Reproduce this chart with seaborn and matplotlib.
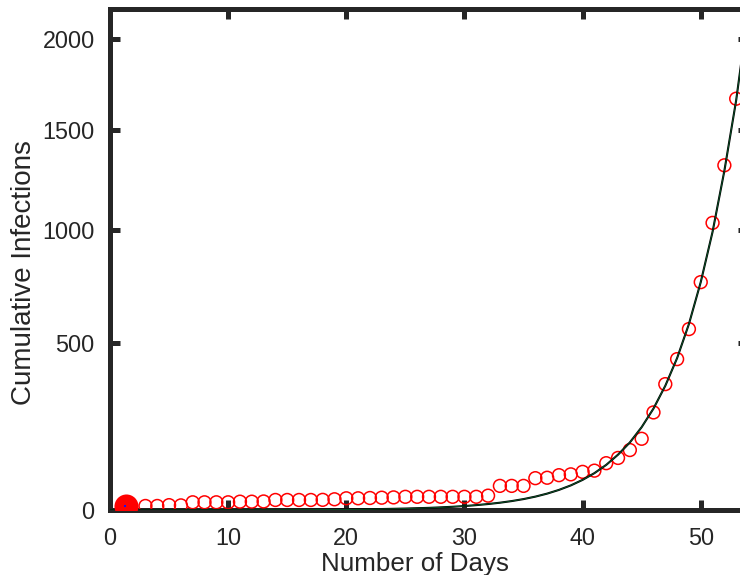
import matplotlib
matplotlib.use('Agg')
import matplotlib.pyplot as plt
import seaborn as sns
import pandas as pd
import numpy as np

days = list(range(3, 54))
infections = [3.5, 3.5, 4.5, 4.2, 8.3, 8.3, 8.3, 8.3, 9.2, 9.2,
              9.5, 11.8, 11.8, 11.8, 11.8, 12, 12.9, 14.5, 14.5, 15,
              15.5, 16, 17, 17, 17, 17, 17, 17, 17, 19,
              38, 38, 38, 55, 56, 62, 64, 70, 73, 92,
              106, 128, 161, 245, 344, 438, 558, 759, 1033, 1318,
              1668]

# fitted curve (black / dark green line), per-day values
fit_days = [0, 5, 10, 15] + list(range(20, 55))
fit_values = [0.001, 0.004, 0.015, 0.06,
              0.23, 0.31, 0.40, 0.52, 0.69, 0.9, 1.2, 1.5, 2.0, 2.6,
              3.4, 4.5, 5.9, 7.7, 10.1, 13.2, 17.3, 22.7, 29.8, 39.0,
              51.1, 66.9, 87.6, 115, 150, 197, 258, 338, 442, 579,
              759, 990, 1290, 1660, 2150]

# initial point (filled red marker with a tiny blue dot)
start_day = [1.35]
start_value = [3.0]

x_ticks = [0, 10, 20, 30, 40, 50]
y_ticks = [0, 500, 1000, 1500, 2000]


def fwd(v):
    v = np.asarray(v, dtype=float)
    return np.sign(v) * np.abs(v) ** 0.75


def inv(v):
    v = np.asarray(v, dtype=float)
    return np.sign(v) * np.abs(v) ** (4.0 / 3.0)


def main():
    sns.set_style('white')
    plt.rcParams['font.family'] = ['Liberation Sans', 'DejaVu Sans']

    obs_df = pd.DataFrame({'Number of Days': days, 'Cumulative Infections': infections})
    fit_df = pd.DataFrame({'Number of Days': fit_days, 'Cumulative Infections': fit_values})

    fig = plt.figure(figsize=(7.4, 5.75), dpi=100)
    ax = fig.add_axes([110 / 740, 65 / 575, 638 / 740, 501 / 575])
    ax.set_yscale('function', functions=(fwd, inv))

    sns.scatterplot(x='Number of Days', y='Cumulative Infections', data=obs_df, ax=ax,
                    marker='o', s=85, facecolors='none', edgecolor='#ff0000',
                    linewidth=1.1, zorder=3)
    sns.lineplot(x='Number of Days', y='Cumulative Infections', data=fit_df, ax=ax,
                 color='black', linewidth=1.5, zorder=4)
    sns.lineplot(x='Number of Days', y='Cumulative Infections', data=fit_df, ax=ax,
                 color='#0b5a2c', linewidth=0.6, zorder=5)
    ax.scatter(start_day, start_value, s=300, color='#ff0000', zorder=6, linewidths=0)
    ax.scatter([1.25], [3.5], s=3, color='#1010ff', marker='s', zorder=7, linewidths=0)

    ax.set_xlim(0, 54)
    ax.set_ylim(0, 2170)
    ax.set_xticks(x_ticks)
    ax.set_yticks(y_ticks)
    ax.set_xticklabels([str(t) for t in x_ticks])
    ax.set_yticklabels([str(t) for t in y_ticks])

    for side in ['top', 'bottom', 'left', 'right']:
        ax.spines[side].set_visible(True)
        ax.spines[side].set_linewidth(3.6)
        ax.spines[side].set_color('#262626')

    ax.tick_params(direction='in', length=7, width=3.6, color='#262626',
                   top=True, right=True, bottom=True, left=True,
                   labelsize=16.8, labelcolor='#262626', pad=11)
    ax.tick_params(axis='x', pad=12)

    ax.set_xlabel('Number of Days', fontsize=18.7, color='#262626', labelpad=1.7)
    ax.set_ylabel('Cumulative Infections', fontsize=20, color='#262626', labelpad=3.5)
    ax.xaxis.label.set_x(0.478)
    ax.yaxis.label.set_y(0.474)

    fig.savefig('out.png', dpi=100)
    plt.close()


if __name__ == '__main__':
    main()
